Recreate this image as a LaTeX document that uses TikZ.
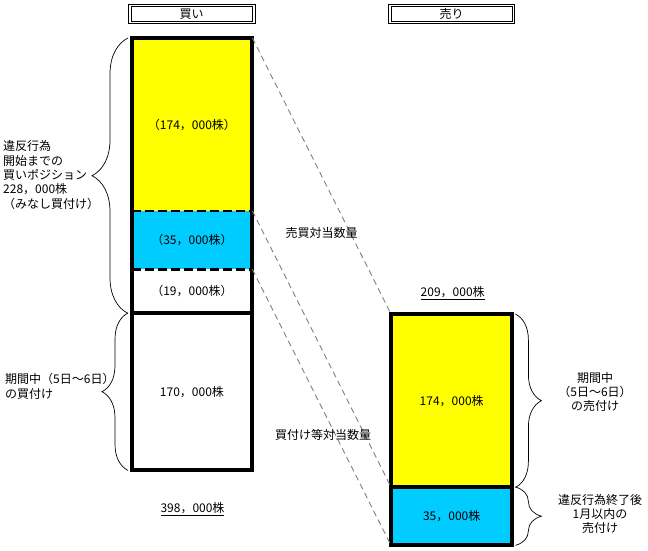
\documentclass[tikz,border=0pt]{standalone}
\usepackage{fontspec}
\setmainfont{Noto Sans CJK JP}
\usetikzlibrary{decorations.pathreplacing}
\definecolor{cyanfill}{RGB}{0,204,255}
\definecolor{yellowfill}{RGB}{255,255,0}
\begin{document}
\begin{tikzpicture}[x=1pt,y=-1pt,
  every node/.style={font=\fontsize{12}{14.3}\selectfont, inner sep=0pt},
  region/.style={draw=none, minimum width=120.5pt, anchor=north west},
  header/.style={draw, line width=0.8pt, minimum width=126.5pt, minimum height=19pt},
  headerinner/.style={line width=0.8pt},
  outline/.style={line width=4pt},
  divider/.style={line width=2.6pt, dash pattern=on 9pt off 4pt},
  conn/.style={gray, line width=0.9pt, dash pattern=on 6pt off 4pt},
  bracestyle/.style={line width=0.7pt, decorate},
]
\useasboundingbox (0,0) rectangle (648,551);

% header
\node[header] (hbuy) at (191.7,14) {買い};
\node[header] (hsell) at (451.5,14) {売り};
\draw[headerinner] ([xshift=3.2pt,yshift=-2.6pt]hbuy.north west) rectangle ([xshift=-3.2pt,yshift=2.6pt]hbuy.south east);
\draw[headerinner] ([xshift=3.2pt,yshift=-2.6pt]hsell.north west) rectangle ([xshift=-3.2pt,yshift=2.6pt]hsell.south east);

% buy regions
\node[region, fill=yellowfill, minimum height=173pt] (buyY) at (131.5,38) {（174，000株）};
\node[region, fill=cyanfill, minimum height=58pt] (buyC) at (131.5,211) {（35，000株）};
\node[region, minimum height=44pt] (buyW) at (131.5,269) {（19，000株）};
\node[region, minimum height=157pt] (buy2) at (131.5,313) {170，000株};

% sell regions
\node[region, fill=yellowfill, minimum width=121pt, minimum height=173pt] (sellY) at (391,314) {174，000株};
\node[region, fill=cyanfill, minimum width=121pt, minimum height=58pt] (sellC) at (391,487) {35，000株};

% outlines
\draw[divider] (buyC.north west) -- (buyC.north east);
\draw[divider] (buyC.south west) -- (buyC.south east);
\draw[outline] (buy2.north west) -- (buy2.north east);
\draw[outline] (buyY.north west) rectangle (buy2.south east);
\draw[outline] (sellC.north west) -- (sellC.north east);
\draw[outline] (sellY.north west) rectangle (sellC.south east);

% connectors
\draw[conn] (buyY.north east) -- (sellY.north west);
\draw[conn] (buyC.north east) -- (sellC.north west);
\draw[conn] (buyC.south east) -- (sellC.south west);

% labels
\node (lab1) at (321.5,233) {売買対当数量};
\node (lab2) at (323,435) {買付け等対当数量};
\node (totsell) at (452.7,293) {\underline{209，000株}};
\node (totbuy) at (192.5,509) {\underline{398，000株}};

% braces
\draw[bracestyle, decoration={brace, amplitude=36pt}] ([xshift=-3.5pt]buyW.south west) -- ([xshift=-3.5pt]buyY.north west);
\draw[bracestyle, decoration={brace, amplitude=26pt}] ([xshift=-3.5pt]buy2.south west) -- ([xshift=-3.5pt]buy2.north west);
\draw[bracestyle, decoration={brace, amplitude=26pt}] ([xshift=3pt]sellY.north east) -- ([xshift=3pt]sellY.south east);
\draw[bracestyle, decoration={brace, amplitude=26pt}] ([xshift=3pt]sellC.north east) -- ([xshift=3pt]sellC.south east);

\node[anchor=west, align=left] (bl1) at (3,175) {違反行為\\開始までの\\買いポジション\\228，000株\\（みなし買付け）};
\node[anchor=west, align=left] (bl2) at (5,386.5) {期間中（5日～6日）\\の買付け};
\node[align=center] (br1) at (595,392) {期間中\\（5日～6日）\\の売付け};
\node[align=center] (br2) at (600,514) {違反行為終了後\\1月以内の\\売付け};
\end{tikzpicture}
\end{document}
